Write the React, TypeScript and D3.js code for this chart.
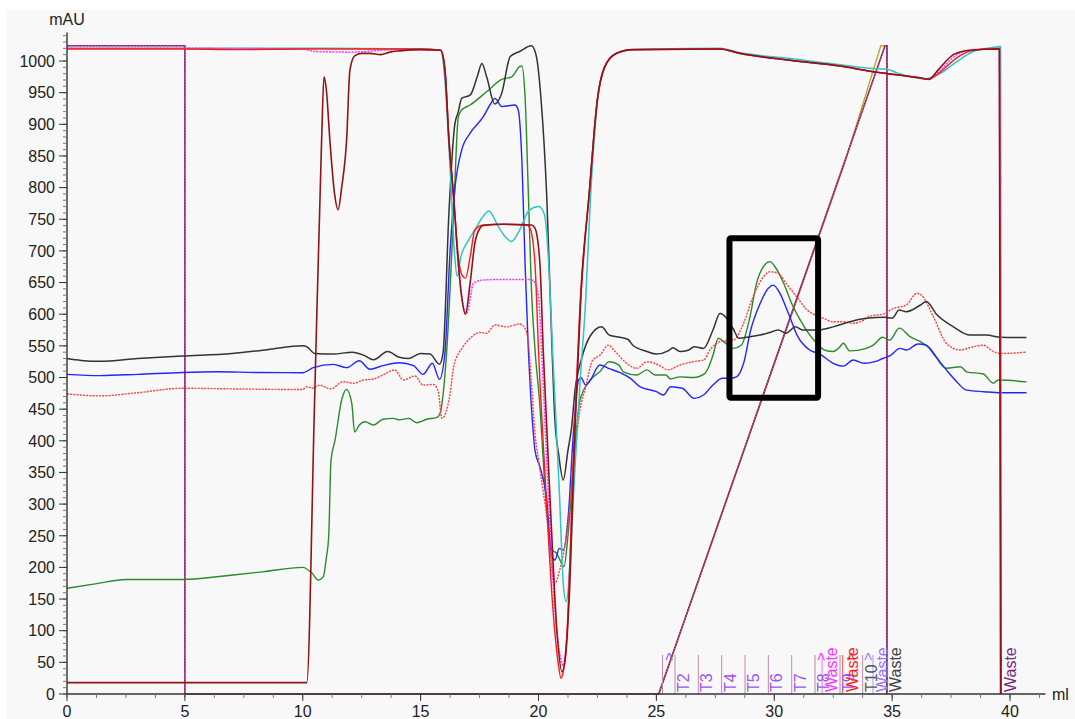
import React from "react";
import * as d3 from "d3";

type Pt = [number, number];

// ---- UV traces (ml, mAU) ----
const blackTrace: Pt[] = [
  [0, 530], [0.6, 527], [1.4, 525.6], [3, 530], [4.9, 534], [7, 538], [8.5, 544], [10, 550], [10.2, 548],
  [10.5, 538], [11.3, 537], [12.1, 540], [12.6, 535], [13, 528], [13.6, 541], [14.1, 532], [14.5, 530],
  [15, 538], [15.4, 537], [15.8, 521], [15.95, 538], [16.2, 760], [16.45, 900], [16.6, 920], [16.74, 941],
  [17.1, 946], [17.4, 975], [17.6, 996], [17.8, 975], [18.15, 932], [18.44, 949], [18.8, 1007], [19.2, 1015],
  [19.7, 1024], [19.9, 1009], [20.1, 943], [20.35, 786], [20.56, 560], [20.7, 430], [20.85, 380], [21.05, 338],
  [21.25, 385], [21.4, 420], [21.55, 480], [21.83, 530], [22.2, 566], [22.68, 580], [23.0, 567], [23.3, 564.5],
  [23.8, 560], [24.0, 551], [24.6, 541], [25.0, 537], [25.5, 542], [25.7, 547], [26.0, 541], [26.35, 543],
  [26.6, 548.6], [27.0, 546], [27.4, 575], [27.7, 601], [27.98, 593.5], [28.26, 577], [28.5, 562], [28.97, 564.5],
  [29.4, 567], [29.8, 571], [30.17, 575], [30.5, 570], [30.9, 580], [31.2, 575], [31.8, 575], [32.5, 580],
  [33.2, 588], [33.9, 593.5], [34.7, 595], [35.0, 593.5], [35.3, 606.6], [35.6, 604], [36.2, 614.5], [36.45, 620],
  [36.9, 599], [37.6, 580], [38.3, 567], [39, 567], [39.6, 563.5], [40.7, 563],
];

const blueTrace: Pt[] = [
  [0, 505], [1.4, 503], [3, 505], [4.9, 508], [6.35, 509], [8, 508], [10, 507.6], [10.45, 515.6], [11.3, 520.8],
  [11.86, 515.6], [12.4, 526.5], [12.85, 513], [13.4, 518.7], [14.1, 523.4], [14.7, 518.7], [15.1, 505],
  [15.5, 522.4], [15.8, 497], [16.03, 538], [16.25, 700], [16.46, 801], [16.74, 859], [17.1, 886], [17.66, 912],
  [17.94, 930.5], [18.15, 941], [18.44, 928], [19.0, 930.5], [19.14, 922.6], [19.3, 838], [19.43, 680],
  [19.57, 543], [19.64, 491], [19.78, 412], [19.85, 385], [20.06, 359], [20.35, 306.5], [20.56, 217],
  [20.7, 211.7], [20.88, 230], [21.05, 227.5], [21.26, 280], [21.48, 412], [21.7, 496], [21.8, 500], [22.0, 488],
  [22.2, 496], [22.6, 519.7], [23.0, 514], [23.46, 507.6], [23.9, 498.7], [24.3, 485.5], [25.0, 477.6],
  [25.3, 472.4], [25.6, 485.5], [26.1, 483], [26.6, 467], [27.0, 472.4], [27.4, 488], [27.8, 498.7], [28.1, 498.7],
  [28.4, 501], [28.7, 522.4], [29.0, 575], [29.4, 617], [29.75, 641], [29.96, 646], [30.24, 633], [30.6, 601.4],
  [31.0, 564.5], [31.5, 543.4], [31.94, 537], [32.5, 522.4], [32.93, 518], [33.35, 527.6], [33.8, 522.4],
  [34.27, 525], [34.6, 530], [34.9, 534], [35.33, 546], [35.6, 543.4], [36.1, 553], [36.45, 551], [36.75, 538],
  [37.3, 512], [37.7, 495], [38.16, 480], [38.9, 477.6], [39.6, 476], [40.7, 476],
];

const greenTrace: Pt[] = [
  [0, 167], [1.2, 174], [2.5, 181], [4.9, 181], [7.05, 188], [8.3, 193], [10, 200], [10.4, 190.6], [10.66, 180],
  [10.87, 185], [11.0, 215], [11.1, 248.5], [11.2, 369.7], [11.37, 401], [11.65, 464.5], [11.86, 481],
  [12.08, 459], [12.2, 414], [12.4, 425], [12.64, 430], [13.0, 425], [13.4, 434], [13.84, 435.5], [14.1, 433],
  [14.5, 435.5], [14.83, 428.6], [15.26, 434], [15.7, 437], [15.82, 443], [16.1, 538], [16.4, 759], [16.6, 912],
  [16.74, 922.6], [17.1, 930.5], [17.8, 951.5], [18.44, 971], [18.86, 975], [19.2, 991], [19.29, 992],
  [19.43, 944], [19.57, 790], [19.7, 640], [19.85, 545], [20.06, 455], [20.2, 370], [20.35, 290], [20.56, 228],
  [20.77, 222], [20.98, 206.5], [21.08, 201], [21.26, 254], [21.48, 359], [21.76, 464], [22.2, 496], [22.6, 509],
  [23.0, 525], [23.4, 520], [23.6, 509], [24.17, 504], [24.6, 512], [24.95, 504], [25.4, 504], [25.6, 497.6],
  [26.0, 501], [26.57, 500], [27.06, 506.6], [27.2, 515], [27.4, 535], [27.63, 562], [27.9, 555], [28.26, 546],
  [28.6, 551], [28.97, 596], [29.25, 649], [29.54, 675], [29.82, 683], [30.03, 675], [30.4, 649], [30.74, 617],
  [31.1, 591], [31.45, 570], [31.8, 554], [32.15, 543], [32.5, 541], [32.75, 547], [32.93, 554], [33.2, 542],
  [33.9, 546], [34.2, 551], [34.6, 563.5], [34.9, 559], [35.3, 578], [35.76, 564.5], [36.2, 556.6], [36.6, 546],
  [37.3, 514.5], [37.9, 517], [38.16, 509], [38.87, 505.5], [39.3, 491], [39.5, 496], [40.7, 493],
];

const redDottedTrace: Pt[] = [
  [0, 474], [1.4, 471], [3, 476], [4.9, 483], [7, 482], [10, 481], [10.17, 485.5], [10.4, 483], [10.7, 488],
  [11.2, 482], [11.7, 493.4], [12.15, 491], [12.57, 496], [13.0, 497.6], [13.4, 504], [13.9, 512], [14.27, 496],
  [14.76, 502.4], [15.1, 488], [15.54, 489], [15.75, 477.6], [15.9, 435.5], [16.03, 440.7], [16.25, 475],
  [16.4, 517], [16.8, 548.6], [17.1, 562], [17.5, 571], [17.8, 570], [18.15, 583], [18.65, 580], [19.2, 584.5],
  [19.43, 577.7], [19.57, 554], [19.7, 491], [19.85, 412], [20.0, 370], [20.2, 320], [20.35, 280], [20.56, 201],
  [20.7, 175], [20.9, 196], [21.2, 254], [21.48, 359], [21.76, 449], [22.0, 485], [22.3, 527.6], [22.6, 535],
  [22.96, 551], [23.25, 541], [23.74, 522.4], [24.17, 514.5], [24.6, 525], [25.1, 519.7], [25.5, 512],
  [26.0, 519.7], [26.57, 525], [27.0, 527.6], [27.3, 545], [27.7, 556.6], [28.26, 559], [28.7, 585.6],
  [29.1, 627.6], [29.54, 659], [29.82, 667], [30.17, 664.6], [30.5, 648.8], [30.95, 627.6], [31.4, 606.6],
  [31.73, 598.7], [32.08, 593.5], [32.5, 588], [32.93, 588], [33.35, 585.6], [33.8, 590.8], [34.06, 597],
  [34.6, 600], [35.05, 609], [35.6, 614.5], [36.05, 633], [36.25, 630], [36.75, 596], [37.3, 554], [37.88, 543.4],
  [38.44, 548.6], [38.87, 551], [39.3, 540.8], [39.6, 538], [40.7, 540],
];

const cyanTrace: Pt[] = [
  [0, 1020], [5, 1020], [10, 1020], [15, 1019], [15.85, 1017], [16.05, 960], [16.25, 830], [16.45, 690],
  [16.55, 660], [16.7, 690], [17.0, 715], [17.3, 733], [17.6, 752], [17.9, 763], [18.3, 738], [18.6, 722],
  [18.86, 715], [19.2, 733], [19.6, 764], [20.0, 770], [20.25, 758], [20.4, 700], [20.5, 628], [20.6, 540],
  [20.7, 464], [20.9, 306], [21.05, 175], [21.17, 146], [21.26, 164], [21.4, 254], [21.55, 359], [21.76, 491],
  [22.0, 622], [22.2, 780], [22.5, 935], [22.8, 990], [23.2, 1010], [23.8, 1017], [25, 1019], [27.7, 1020],
  [28.55, 1013], [30.7, 1004], [32.8, 994], [34.2, 988], [34.77, 987], [35.3, 980], [36.4, 972], [37.03, 980],
  [37.74, 999], [38.44, 1015], [39.2, 1021], [39.6, 1023], [39.63, 0],
];

const magentaDottedTrace: Pt[] = [
  [0, 1020], [5, 1020], [10, 1019], [10.5, 1015], [12, 1014], [14, 1018], [15.85, 1017], [16.03, 985],
  [16.2, 875], [16.4, 785], [16.6, 680], [16.8, 615], [16.95, 601], [17.1, 625], [17.24, 649], [17.66, 654],
  [18.5, 655], [19.6, 655], [19.78, 653], [20.0, 628], [20.13, 543], [20.4, 330], [20.7, 130], [20.95, 55],
  [21.05, 45], [21.2, 90], [21.5, 390], [21.8, 630], [22.15, 790], [22.5, 940], [22.8, 990], [23.3, 1012],
  [24, 1018], [27.7, 1019], [28.55, 1012], [30.7, 1001], [32.8, 992], [34.2, 983], [34.6, 981], [36.3, 972.6],
  [36.54, 971], [37.03, 985], [37.74, 1010], [38.44, 1018], [39.55, 1020], [39.62, 0],
];

const redTrace: Pt[] = [
  [0, 1019], [5, 1019], [7.2, 1018], [10, 1019], [15, 1019], [15.85, 1017], [16.03, 990], [16.2, 880],
  [16.4, 785], [16.6, 690], [16.75, 662], [16.9, 657], [17.1, 690], [17.3, 733], [17.66, 741], [18.5, 742],
  [19.5, 741], [19.64, 736], [19.85, 680], [20.0, 543], [20.3, 330], [20.6, 140], [20.85, 45], [20.95, 25],
  [21.05, 35], [21.2, 90], [21.5, 390], [21.8, 640], [22.15, 790], [22.5, 940], [22.8, 990], [23.3, 1012],
  [24, 1018], [27.7, 1019], [28.55, 1012], [30.7, 1001], [32.8, 992], [34.2, 983], [34.6, 981], [36.3, 972.6],
  [36.54, 971], [37.03, 982], [37.74, 1005], [38.44, 1017], [39.55, 1020], [39.62, 0],
];

const maroonTrace: Pt[] = [
  [0, 18], [10.17, 18], [10.5, 460], [10.8, 875], [10.9, 975], [11.0, 955], [11.15, 875], [11.35, 790],
  [11.5, 765], [11.65, 800], [11.86, 875], [12.0, 985], [12.2, 1008], [12.5, 1012], [12.85, 1012], [13.3, 1010],
  [13.7, 1014], [14.1, 1016], [15, 1018], [15.85, 1017], [16.03, 985], [16.2, 875], [16.4, 785], [16.6, 680],
  [16.75, 625], [16.9, 600], [17.1, 649], [17.3, 712], [17.5, 735], [17.66, 740], [18.5, 742], [19.7, 741],
  [19.85, 736], [20.06, 680], [20.2, 543], [20.5, 300], [20.8, 90], [21.0, 35], [21.15, 60], [21.3, 150],
  [21.55, 420], [21.8, 630], [22.15, 790], [22.5, 940], [22.8, 990], [23.3, 1012], [24, 1018], [27.7, 1019],
  [28.55, 1012], [30.7, 1001], [32.8, 992], [34.2, 983], [34.6, 981], [36.3, 972.6], [36.54, 971], [37.0, 988],
  [37.6, 1010], [38.3, 1017], [39.55, 1019], [39.6, 0],
];

// ---- Concentration (gradient) traces, piecewise linear ----
const concTrace: Pt[] = [
  [0, 1024], [5, 1024], [5, 0], [25.1, 0], [34.7, 1024], [34.78, 1024], [34.78, 0],
];
const concTraceAlt: Pt[] = [
  [25.1, 0], [33.0, 840], [34.52, 1024], [34.78, 1024], [34.78, 0],
];

// ---- Fractions ----
const fractionTicks = [25.26, 25.79, 26.78, 27.77, 28.76, 29.75, 30.74, 31.73, 32.79, 33.75];
const fractionNames = ["", "T2", "T3", "T4", "T5", "T6", "T7", "T8", "T9", "T10"];
const fractionNameColors = ["#9b55f0", "#9b55f0", "#9b55f0", "#9b55f0", "#9b55f0", "#9b55f0", "#9b55f0", "#9b55f0", "#9b55f0", "#555555"];
const wasteMarks = [32.07, 32.94, 34.23, 34.8, 39.68];
const wasteColors = ["#ff33ff", "#ff2222", "#9a70ff", "#444444", "#7a2a80"];
const arrowMarks = [25.2, 31.65, 32.92, 33.64];
const arrowColors = ["#9b55f0", "#ff33ff", "#ff2222", "#9a70ff"];

// ---- Axes ----
const yMajorTicks = d3.range(0, 1001, 50);
const yMinorTicks = d3.range(0, 1041, 10);
const xMajorTicks = d3.range(0, 41, 5);
const xMinorTicks = d3.range(0, 41.3, 1.25);

// ---- Highlighted region (ml, mAU) ----
const highlightBox = { x0: 28.1, x1: 31.86, y0: 468, y1: 720 };

const FONT = "'Liberation Sans', Arial, Helvetica, sans-serif";

export default function App() {
  const W = 1075;
  const H = 719;
  const x = d3.scaleLinear().domain([0, 40]).range([67, 1010]);
  const y = d3.scaleLinear().domain([0, 1000]).range([694, 61]);

  const smooth = d3
    .line<Pt>()
    .x((d) => x(d[0]))
    .y((d) => y(d[1]))
    .curve(d3.curveMonotoneX);
  const straight = d3
    .line<Pt>()
    .x((d) => x(d[0]))
    .y((d) => y(d[1]));

  const uvTraces = [
    { data: greenTrace, color: "#2b8a2b", width: 1.4, dash: undefined as string | undefined },
    { data: blueTrace, color: "#2424ff", width: 1.4, dash: undefined },
    { data: redDottedTrace, color: "#ff3a3a", width: 1.4, dash: "2,1.2" },
    { data: blackTrace, color: "#333333", width: 1.5, dash: undefined },
    { data: cyanTrace, color: "#33c4c4", width: 1.5, dash: undefined },
    { data: magentaDottedTrace, color: "#ff33ff", width: 1.5, dash: "2,1.2" },
    { data: redTrace, color: "#ff1a1a", width: 1.4, dash: undefined },
    { data: maroonTrace, color: "#8e1515", width: 1.6, dash: undefined },
  ];

  const axisY0 = y(0);
  const xEnd = x(41.5);
  const yTop = y(1045);

  return (
    <svg
      width={W}
      height={H}
      style={{ position: "absolute", left: 0, top: 0, background: "#ffffff" }}
      fontFamily={FONT}
    >
      <rect x={7} y={10} width={W - 7} height={H - 10} fill="#f8f8f8" />

      {/* gradient traces */}
      <path d={straight(concTraceAlt) || ""} fill="none" stroke="#b5b02a" strokeWidth={1.4} />
      <path d={straight(concTrace) || ""} fill="none" stroke="#7c1f4e" strokeWidth={1.6} />
      <path d={straight(concTrace) || ""} fill="none" stroke="#e455c8" strokeWidth={0.9} strokeDasharray="1.5,1.5" />

      {/* UV traces */}
      {uvTraces.map((t, i) => (
        <path
          key={i}
          d={smooth(t.data) || ""}
          fill="none"
          stroke={t.color}
          strokeWidth={t.width}
          strokeDasharray={t.dash}
          strokeLinejoin="round"
        />
      ))}

      {/* fraction marks */}
      {fractionTicks.map((f, i) => (
        <line key={"ft" + i} x1={x(f)} x2={x(f)} y1={axisY0} y2={axisY0 - 39} stroke="#c58aa8" strokeWidth={1} />
      ))}
      {wasteMarks.map((f, i) => (
        <line key={"wt" + i} x1={x(f) - 1} x2={x(f) - 1} y1={axisY0} y2={axisY0 - 39} stroke={wasteColors[i]} strokeWidth={1} opacity={0.7} />
      ))}
      {fractionTicks.map((f, i) =>
        fractionNames[i] ? (
          <text
            key={"fn" + i}
            transform={`translate(${x(f) + 14},${axisY0 - 2}) rotate(-90)`}
            fontSize={16}
            fill={fractionNameColors[i]}
          >
            {fractionNames[i]}
          </text>
        ) : null
      )}
      {wasteMarks.map((f, i) => (
        <text
          key={"wn" + i}
          transform={`translate(${x(f) + 14},${axisY0 - 2}) rotate(-90)`}
          fontSize={16}
          fill={wasteColors[i]}
        >
          Waste
        </text>
      ))}
      {arrowMarks.map((f, i) => (
        <text
          key={"ar" + i}
          transform={`translate(${x(f) + 13},${axisY0 - 33}) rotate(-90)`}
          fontSize={15}
          fill={arrowColors[i]}
        >
          {">"}
        </text>
      ))}

      {/* highlighted region */}
      <rect
        x={x(highlightBox.x0)}
        y={y(highlightBox.y1)}
        width={x(highlightBox.x1) - x(highlightBox.x0)}
        height={y(highlightBox.y0) - y(highlightBox.y1)}
        fill="none"
        stroke="#000"
        strokeWidth={6}
        rx={1.5}
      />

      {/* y axis */}
      <line x1={67} x2={67} y1={yTop} y2={axisY0} stroke="#333" strokeWidth={1.4} />
      {yMinorTicks.map((v) => (
        <line key={"ym" + v} x1={63} x2={67} y1={y(v)} y2={y(v)} stroke="#777" strokeWidth={1} />
      ))}
      {yMajorTicks.map((v) => (
        <g key={"yM" + v}>
          <line x1={59} x2={67} y1={y(v)} y2={y(v)} stroke="#333" strokeWidth={1} />
          <text x={55} y={y(v)} dy="0.36em" textAnchor="end" fontSize={16} fill="#222">
            {v}
          </text>
        </g>
      ))}
      <text x={67} y={25} textAnchor="middle" fontSize={16} fill="#222">
        mAU
      </text>

      {/* x axis */}
      <line x1={67} x2={xEnd} y1={axisY0} y2={axisY0} stroke="#333" strokeWidth={1.4} />
      {xMinorTicks.map((v) => (
        <line key={"xm" + v} x1={x(v)} x2={x(v)} y1={axisY0} y2={axisY0 + 4} stroke="#777" strokeWidth={1} />
      ))}
      {xMajorTicks.map((v) => (
        <g key={"xM" + v}>
          <line x1={x(v)} x2={x(v)} y1={axisY0} y2={axisY0 + 7} stroke="#333" strokeWidth={1} />
          <text x={x(v)} y={717} textAnchor="middle" fontSize={16} fill="#222">
            {v}
          </text>
        </g>
      ))}
      <text x={1052} y={700} fontSize={16} fill="#222">
        ml
      </text>
    </svg>
  );
}
